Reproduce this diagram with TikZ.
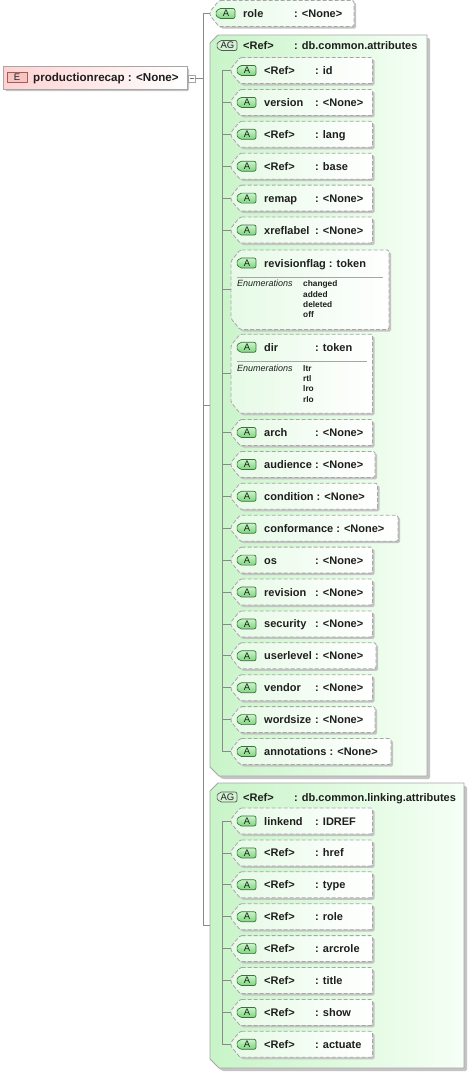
\documentclass[tikz,border=0pt]{standalone}
\usepackage{fontspec}
\setmainfont{Liberation Sans}
\definecolor{edgec}{HTML}{A6A6A6}
\definecolor{linec}{HTML}{8A8A8A}
\definecolor{shad}{HTML}{C4C4C4}
\definecolor{agL}{HTML}{C8F4C8}
\definecolor{agR}{HTML}{F6FFF6}
\definecolor{chL}{HTML}{E6FAE6}
\definecolor{icT}{HTML}{C8F5C8}
\definecolor{icB}{HTML}{7ED67E}
\definecolor{icE}{HTML}{3F6F3F}
\definecolor{agiF}{HTML}{D4F2D4}
\definecolor{eL}{HTML}{FFD2D2}
\definecolor{eiF}{HTML}{F7C4C4}
\definecolor{eiE}{HTML}{A85A5A}
\definecolor{txt}{HTML}{1E1E1E}
\tikzset{
  lbl/.style={font=\fontsize{11}{13}\selectfont\bfseries, text=txt, inner sep=0pt, anchor=base west},
  elbl/.style={font=\fontsize{11.6}{13}\selectfont\bfseries, text=txt, inner sep=0pt, anchor=base west},
  enl/.style={font=\fontsize{9}{10}\selectfont\itshape, text=txt, inner sep=0pt, anchor=base west},
  env/.style={font=\fontsize{8.3}{10}\selectfont\bfseries, text=txt, inner sep=0pt, anchor=base west},
  ict/.style={font=\fontsize{9.5}{10}\selectfont, text=txt, inner sep=0pt},
  conn/.style={draw=linec, line width=0.8pt},
  shadowst/.style={fill=shad, rounded corners=1.5pt},
  dbox/.style={draw=edgec, line width=0.8pt, dash pattern=on 4pt off 2pt, left color=chL, right color=white, rounded corners=1.5pt},
  agst/.style={draw=edgec, line width=0.8pt, left color=agL, right color=agR},
  aicon/.style={draw=icE, line width=0.7pt, top color=icT, bottom color=icB},
  agicon/.style={draw=black!65, line width=0.7pt, fill=agiF},
  sepline/.style={draw=edgec, line width=0.7pt},
}
% box outline: tip x, top, bottom, right
\newcommand\ashape[4]{(#1+9,#2) -- (#4,#2) -- (#4,#3) -- (#1+9,#3) -- (#1,#3-11) -- (#1,#2+11) -- cycle}
\newcommand\agshape[4]{(#1+8,#2) -- (#4,#2) -- (#4,#3) -- (#1+9,#3) -- (#1,#3-9) -- (#1,#2+8) -- cycle}
% name column
\newcommand\nt[2]{\setbox0\hbox{#1\ }\ifdim\wd0<51pt\hbox to 51pt{#1\hfil}\else\box0\fi: #2}
% icon: name, x0, yc, width, text, style
\newcommand\icon[6]{%
  \path[#6, rounded corners=2pt] (#2+#4,#3-5) -- (#2+3.5,#3-5) -- (#2,#3) -- (#2+3.5,#3+5) -- (#2+#4,#3+5) -- cycle;
  \node[ict] (#1) at (#2+#4/2+1,#3) {#5};}
% attribute box: id, tip, yc, right, name, type
\newcommand\abox[6]{%
  \path[shadowst] \ashape{#2+2}{#3-11}{#3+15}{#4+2};
  \path[dbox] \ashape{#2}{#3-13}{#3+13}{#4};
  \coordinate (#1) at (#2,#3);
  \icon{#1-i}{#2+5}{#3}{20}{A}{aicon}
  \node[lbl] (#1-n) at (#2+33,#3+4) {\nt{#5}{#6}};}
% enumerated attribute box: id, tip, top, bottom, right, name, type, values
\newcommand\ebox[8]{%
  \path[shadowst] \ashape{#2+2}{#3+2}{#4+2}{#5+2};
  \path[dbox] \ashape{#2}{#3}{#4}{#5};
  \coordinate (#1) at (#2,{(#3+#4)/2});
  \icon{#1-i}{#2+5}{#3+13}{20}{A}{aicon}
  \node[lbl] (#1-n) at (#2+33,#3+17) {\nt{#6}{#7}};
  \draw[sepline] (#2+6,#3+27) -- (#5-6,#3+27);
  \node[enl] (#1-e) at (#2+6,#3+36.7) {Enumerations};
  \foreach \v [count=\k from 0] in {#8} \node[env] (#1-v\k) at (303,#3+36.7+10.4*\k) {\v};}
% attribute group: id, tip, top, bottom, right, header y, name, type
\newcommand\agbox[8]{%
  \path[shadowst] \agshape{#2+3}{#3+3}{#4+3}{#5+3};
  \path[agst] \agshape{#2}{#3}{#4}{#5};
  \coordinate (#1) at (#2,{(#3+#4)/2});
  \icon{#1-i}{#2+6}{#6}{21}{AG}{agicon}
  \node[lbl] (#1-n) at (#2+33,#6+4) {\nt{#7}{#8}};}
\begin{document}
\begin{tikzpicture}[x=1pt,y=-1pt]
\useasboundingbox (0,0) rectangle (473,1074);
\fill[white] (0,0) rectangle (473,1074);
% element
\path[shadowst] (5,68) rectangle (189,91);
\path[draw=edgec, line width=0.8pt, left color=eL, right color=white] (3,66) rectangle (187,89);
\node[draw=eiE, line width=0.7pt, fill=eiF, minimum width=20pt, minimum height=9.5pt, inner sep=0pt, font=\fontsize{9.5}{10}\selectfont, text=txt] (Eicon) at (17,77.5) {E};
\node[elbl] (Etext) at (33,81.5) {productionrecap : <None>};
\node[draw=edgec, fill=white, line width=0.6pt, minimum size=7pt, inner sep=0pt] (minus) at (191.5,78.5) {};
\draw[black!55, line width=0.6pt] (minus.center) ++(-2,0) -- ++(4,0);
% top-level attribute
\abox{trole}{210}{13.5}{354}{role}{<None>}
% group 1
\agbox{ag1}{210}{35}{776}{427}{45.5}{<Ref>}{db.common.attributes}
\abox{id}{231}{70.5}{372.5}{<Ref>}{id}
\abox{version}{231}{102.4}{372.5}{version}{<None>}
\abox{lang}{231}{134.3}{372.5}{<Ref>}{lang}
\abox{base}{231}{166.2}{372.5}{<Ref>}{base}
\abox{remap}{231}{198.1}{372.5}{remap}{<None>}
\abox{xreflabel}{231}{230}{372.5}{xreflabel}{<None>}
\ebox{revisionflag}{231}{250}{329.5}{389}{revisionflag}{token}{changed,added,deleted,off}
\ebox{dir}{231}{334.3}{413.3}{372.5}{dir}{token}{ltr,rtl,lro,rlo}
\abox{arch}{231}{432.5}{372.5}{arch}{<None>}
\abox{audience}{231}{464.4}{375}{audience}{<None>}
\abox{condition}{231}{496.3}{377.5}{condition}{<None>}
\abox{conformance}{231}{528.2}{398}{conformance}{<None>}
\abox{os}{231}{560.1}{372.5}{os}{<None>}
\abox{revision}{231}{592}{372.5}{revision}{<None>}
\abox{security}{231}{623.9}{372.5}{security}{<None>}
\abox{userlevel}{231}{655.8}{376}{userlevel}{<None>}
\abox{vendor}{231}{687.7}{372.5}{vendor}{<None>}
\abox{wordsize}{231}{719.6}{375}{wordsize}{<None>}
\abox{annotations}{231}{751.5}{391}{annotations}{<None>}
% group 2
\agbox{ag2}{210}{783}{1068}{464}{797}{<Ref>}{db.common.linking.attributes}
\abox{linkend}{231}{821}{372.5}{linkend}{IDREF}
\abox{href}{231}{852.9}{372.5}{<Ref>}{href}
\abox{type}{231}{884.8}{372.5}{<Ref>}{type}
\abox{lrole}{231}{916.7}{372.5}{<Ref>}{role}
\abox{arcrole}{231}{948.6}{372.5}{<Ref>}{arcrole}
\abox{title}{231}{980.5}{372.5}{<Ref>}{title}
\abox{show}{231}{1012.4}{372.5}{<Ref>}{show}
\abox{actuate}{231}{1044.3}{372.5}{<Ref>}{actuate}
% connectors
\coordinate (J) at (203,78.5);
\draw[conn] (minus.east) -- (J);
\draw[conn] (trole) -| (J);
\draw[conn] (ag1) -| (J);
\draw[conn] (ag2) -| (J);
\coordinate (B1) at (222,70.5);
\foreach \c in {id,version,lang,base,remap,xreflabel,revisionflag,dir,arch,audience,condition,conformance,os,revision,security,userlevel,vendor,wordsize,annotations}
  \draw[conn] (\c) -| (B1);
\coordinate (B2) at (222,821);
\foreach \c in {linkend,href,type,lrole,arcrole,title,show,actuate}
  \draw[conn] (\c) -| (B2);
\end{tikzpicture}
\end{document}
